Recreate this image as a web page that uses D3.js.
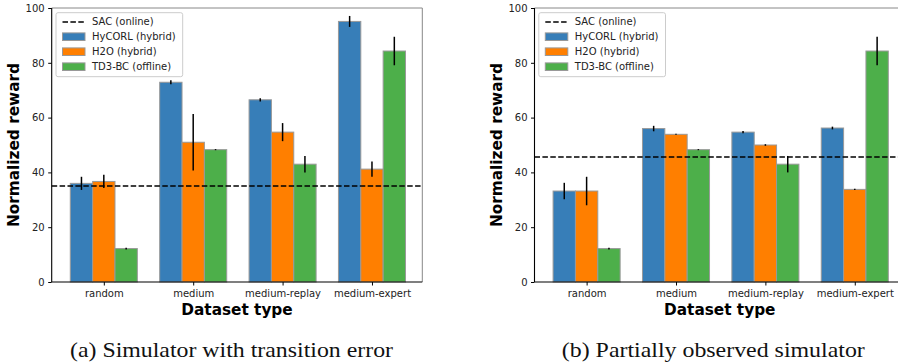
<!DOCTYPE html>
<html>
<head>
<meta charset="utf-8">
<script src="https://cdn.jsdelivr.net/npm/d3@7"></script>
<style>
body { margin: 0; background: #fff; }
svg { display: block; }
text { font-family: "DejaVu Sans", sans-serif; }
</style>
</head>
<body>
<svg width="898" height="362"></svg>
<script>
// data
categories = ["random", "medium", "medium-replay", "medium-expert"];
methods = ["HyCORL (hybrid)", "H2O (hybrid)", "TD3-BC (offline)"];
colors = ["#377eb8", "#ff7f00", "#4daf4a"];
yTicks = [0, 20, 40, 60, 80, 100];

// (a) transition error
a_hycorl = [36.0, 72.9, 66.5, 95.1];
a_hycorl_err = [2.4, 0.7, 0.6, 2.0];
a_h2o = [36.7, 51.0, 54.7, 41.2];
a_h2o_err = [2.4, 10.3, 3.3, 2.8];
a_td3bc = [12.2, 48.3, 43.0, 84.3];
a_td3bc_err = [0.3, 0.2, 3.0, 5.2];
a_sac = 35.0;

// (b) partially observed
b_hycorl = [33.2, 56.0, 54.7, 56.2];
b_hycorl_err = [3.0, 1.0, 0.4, 0.5];
b_h2o = [33.2, 53.9, 50.0, 33.8];
b_h2o_err = [5.2, 0.2, 0.3, 0.2];
b_td3bc = [12.2, 48.3, 43.0, 84.3];
b_td3bc_err = [0.3, 0.2, 3.0, 5.2];
b_sac = 45.6;

captions = ["(a) Simulator with transition error", "(b) Partially observed simulator"];

svg = d3.select('svg');

W = 370.6;
top_ = 8;
bottom = 282;
barW = 0.25;

panels = [
    { ox: 51.7, vals: [a_hycorl, a_h2o, a_td3bc], errs: [a_hycorl_err, a_h2o_err, a_td3bc_err], sac: a_sac, cap: captions[0], capX: 231.5, capW: 323 },
    { ox: 534.5, vals: [b_hycorl, b_h2o, b_td3bc], errs: [b_hycorl_err, b_h2o_err, b_td3bc_err], sac: b_sac, cap: captions[1], capX: 713.3, capW: 303 }
];

panels.forEach(p => {
    g = svg.append('g').attr('transform', `translate(${p.ox}, 0)`);

    xScale = d3.scaleLinear().domain([-0.583, 3.563]).range([0, W]);
    yScale = d3.scaleLinear().domain([0, 100]).range([bottom, top_]);

    // bars
    bars = [];
    for(j = 0; j < 3; j++) {
        for(i = 0; i < categories.length; i++) {
            bars.push({ c: i, m: j, v: p.vals[j][i], e: p.errs[j][i] });
        }
    }
    xPos = (d) => d.c + (d.m - 1) * barW;

    g.selectAll('rect.bar')
        .data(bars)
        .enter()
        .append('rect')
        .attr('class', 'bar')
        .attr('x', (d) => xScale(xPos(d) - barW / 2))
        .attr('y', (d) => yScale(d.v))
        .attr('width', (d) => xScale(barW) - xScale(0))
        .attr('height', (d) => yScale(0) - yScale(d.v))
        .attr('fill', (d) => colors[d.m])
        .attr('stroke', '#999')
        .attr('stroke-width', 1);

    // error bars
    g.selectAll('line.err')
        .data(bars)
        .enter()
        .append('line')
        .attr('x1', (d) => xScale(xPos(d)))
        .attr('x2', (d) => xScale(xPos(d)))
        .attr('y1', (d) => yScale(d.v - d.e))
        .attr('y2', (d) => yScale(d.v + d.e))
        .attr('stroke', '#000')
        .attr('stroke-width', 1.5);

    // SAC line, runs across the whole axes
    g.append('line')
        .attr('x1', 0)
        .attr('x2', W)
        .attr('y1', yScale(p.sac))
        .attr('y2', yScale(p.sac))
        .attr('stroke', '#000')
        .attr('stroke-width', 1.5)
        .attr('stroke-dasharray', '5.5,2.4');

    // spines
    g.append('line').attr('x1', 0).attr('x2', W).attr('y1', top_).attr('y2', top_)
        .attr('stroke', '#888').attr('stroke-width', 1);
    g.append('line').attr('x1', W).attr('x2', W).attr('y1', top_).attr('y2', bottom)
        .attr('stroke', '#888').attr('stroke-width', 1);

    // axes
    yAxis = g.append('g')
        .call(d3.axisLeft(yScale).tickValues(yTicks).tickSize(3.5).tickPadding(3.5));
    xAxis = g.append('g')
        .attr('transform', `translate(0, ${bottom})`)
        .call(d3.axisBottom(xScale).tickValues([0, 1, 2, 3]).tickFormat((d) => categories[d]).tickSize(3.5).tickPadding(4.5));
    [yAxis, xAxis].forEach(ax => {
        ax.select('.domain').attr('stroke', '#000').attr('stroke-width', 1.1);
        ax.selectAll('.tick line').attr('stroke', '#000');
        ax.selectAll('text').attr('font-size', 10).attr('fill', '#222')
            .attr('font-family', '"DejaVu Sans", sans-serif');
    });
    yAxis.select('.domain').attr('d', `M0,${top_}V${bottom}`);
    xAxis.select('.domain').attr('d', `M0,0H${W}`);

    // labels
    g.append('text')
        .attr('transform', `translate(-37.7, ${(top_ + bottom) / 2}) rotate(-90)`)
        .attr('text-anchor', 'middle')
        .attr('dy', '0.35em')
        .attr('font-size', 15.3)
        .attr('font-weight', 'bold')
        .text('Normalized reward');

    g.append('text')
        .attr('x', W / 2)
        .attr('y', 314.5)
        .attr('text-anchor', 'middle')
        .attr('font-size', 15.3)
        .attr('font-weight', 'bold')
        .text('Dataset type');

    // legend
    leg = g.append('g').attr('transform', 'translate(4.3, 12.7)');
    leg.append('rect')
        .attr('width', 126.7).attr('height', 64)
        .attr('rx', 2)
        .attr('fill', 'rgba(255,255,255,0.85)')
        .attr('stroke', '#ccc')
        .attr('stroke-width', 1);
    rowY = [9.3, 24, 39, 54];
    leg.append('line')
        .attr('x1', 6.5).attr('x2', 29).attr('y1', rowY[0]).attr('y2', rowY[0])
        .attr('stroke', '#000').attr('stroke-width', 1.5)
        .attr('stroke-dasharray', '5.5,2.4');
    leg.append('text').attr('x', 36).attr('y', rowY[0]).attr('dy', '0.35em')
        .attr('font-size', 10).attr('fill', '#222').text('SAC (online)');
    methods.forEach((m, j) => {
        leg.append('rect')
            .attr('x', 6.5).attr('y', rowY[j + 1] - 3.8)
            .attr('width', 22.5).attr('height', 7.6)
            .attr('fill', colors[j]).attr('stroke', '#999').attr('stroke-width', 1);
        leg.append('text').attr('x', 36).attr('y', rowY[j + 1]).attr('dy', '0.35em')
            .attr('font-size', 10).attr('fill', '#222').text(m);
    });

    // caption
    svg.append('text')
        .attr('x', p.capX)
        .attr('y', 356.5)
        .attr('text-anchor', 'middle')
        .attr('font-family', '"Liberation Serif", "Times New Roman", serif')
        .style('font-family', '"Liberation Serif", "Times New Roman", serif')
        .attr('font-size', 21)
        .attr('textLength', p.capW)
        .attr('lengthAdjust', 'spacingAndGlyphs')
        .attr('fill', '#111')
        .text(p.cap);
});
</script>
</body>
</html>
